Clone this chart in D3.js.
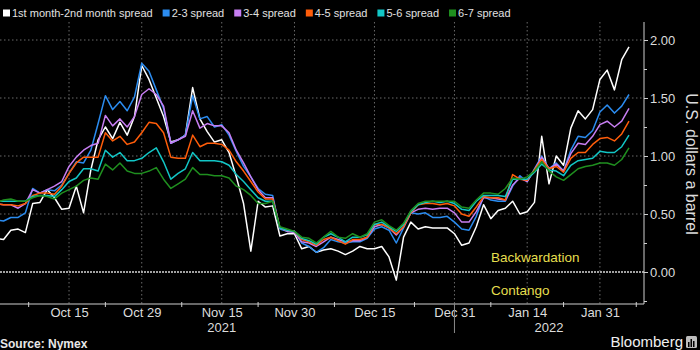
<!DOCTYPE html>
<html>
<head>
<meta charset="utf-8">
<script src="https://cdn.jsdelivr.net/npm/d3@7"></script>
<style>
  body { margin: 0; background: #000; }
  svg { display: block; font-family: "Liberation Sans", Arial, sans-serif; }
</style>
</head>
<body>
<svg id="chart" width="700" height="350"></svg>
<script>
// Trading days (NYMEX settlements), Oct 1 2021 – Feb 4 2022
const dates = [
  "2021-10-01","2021-10-04","2021-10-05","2021-10-06","2021-10-07","2021-10-08","2021-10-11","2021-10-12","2021-10-13","2021-10-14",
  "2021-10-15","2021-10-18","2021-10-19","2021-10-20","2021-10-21","2021-10-22","2021-10-25","2021-10-26","2021-10-27","2021-10-28",
  "2021-10-29","2021-11-01","2021-11-02","2021-11-03","2021-11-04","2021-11-05","2021-11-08","2021-11-09","2021-11-10","2021-11-11",
  "2021-11-12","2021-11-15","2021-11-16","2021-11-17","2021-11-18","2021-11-19","2021-11-22","2021-11-23","2021-11-24","2021-11-26",
  "2021-11-29","2021-11-30","2021-12-01","2021-12-02","2021-12-03","2021-12-06","2021-12-07","2021-12-08","2021-12-09","2021-12-10",
  "2021-12-13","2021-12-14","2021-12-15","2021-12-16","2021-12-17","2021-12-20","2021-12-21","2021-12-22","2021-12-23","2021-12-27",
  "2021-12-28","2021-12-29","2021-12-30","2021-12-31","2022-01-03","2022-01-04","2022-01-05","2022-01-06","2022-01-07","2022-01-10",
  "2022-01-11","2022-01-12","2022-01-13","2022-01-14","2022-01-18","2022-01-19","2022-01-20","2022-01-21","2022-01-24","2022-01-25",
  "2022-01-26","2022-01-27","2022-01-28","2022-01-31","2022-02-01","2022-02-02","2022-02-03","2022-02-04"
];

// Calendar spreads, U.S. dollars a barrel
const spread12 = [
  0.29,0.28,0.36,0.37,0.34,0.59,0.60,0.71,0.64,0.54,0.55,0.74,0.51,0.88,1.14,1.25,1.15,1.29,1.18,1.34,
  1.78,1.66,1.50,1.34,1.12,1.14,1.18,1.59,1.32,1.21,1.12,1.14,1.03,0.82,0.59,0.18,0.61,0.56,0.57,0.31,
  0.33,0.33,0.20,0.22,0.17,0.19,0.20,0.18,0.15,0.18,0.22,0.20,0.20,0.22,0.13,-0.07,0.30,0.43,0.37,0.39,
  0.38,0.38,0.38,0.33,0.23,0.25,0.39,0.58,0.46,0.53,0.55,0.61,0.50,0.52,0.60,1.17,0.76,1.00,0.92,1.24,
  1.39,1.32,1.40,1.66,1.74,1.57,1.83,1.94
];
const spread23 = [
  0.45,0.44,0.47,0.47,0.51,0.72,0.68,0.71,0.70,0.75,0.85,0.95,0.94,1.05,1.28,1.52,1.40,1.47,1.39,1.51,
  1.80,1.73,1.57,1.41,1.11,1.14,1.18,1.52,1.32,1.34,1.25,1.27,1.18,1.04,0.91,0.82,0.72,0.67,0.66,0.37,
  0.35,0.35,0.25,0.22,0.17,0.21,0.28,0.26,0.25,0.26,0.26,0.29,0.37,0.39,0.36,0.25,0.38,0.51,0.50,0.51,
  0.47,0.47,0.48,0.43,0.37,0.36,0.48,0.65,0.62,0.61,0.61,0.74,0.83,0.78,0.89,1.00,0.89,0.94,0.87,1.05,
  1.17,1.16,1.22,1.38,1.44,1.37,1.43,1.53
];
const spread34 = [
  0.59,0.58,0.58,0.55,0.59,0.71,0.68,0.71,0.74,0.78,0.91,0.99,1.05,1.09,1.11,1.35,1.26,1.32,1.25,1.34,
  1.53,1.58,1.53,1.43,1.11,1.14,1.17,1.39,1.24,1.28,1.26,1.26,1.20,1.05,0.94,0.82,0.71,0.64,0.64,0.38,
  0.35,0.34,0.26,0.25,0.22,0.26,0.30,0.28,0.26,0.27,0.27,0.30,0.39,0.41,0.38,0.32,0.39,0.51,0.54,0.55,
  0.54,0.55,0.55,0.51,0.43,0.43,0.52,0.64,0.64,0.63,0.62,0.75,0.81,0.78,0.88,0.99,0.89,0.93,0.87,1.02,
  1.11,1.10,1.17,1.27,1.30,1.25,1.30,1.41
];
const spread45 = [
  0.59,0.58,0.58,0.57,0.59,0.66,0.68,0.68,0.67,0.74,0.85,0.94,0.99,0.99,0.99,1.20,1.13,1.17,1.10,1.12,
  1.20,1.29,1.28,1.20,0.99,0.98,0.98,1.18,1.08,1.11,1.11,1.10,1.05,0.95,0.87,0.78,0.69,0.63,0.63,0.38,
  0.36,0.35,0.28,0.26,0.23,0.28,0.30,0.27,0.24,0.28,0.28,0.30,0.41,0.41,0.38,0.33,0.39,0.51,0.58,0.59,
  0.59,0.58,0.59,0.57,0.50,0.48,0.56,0.65,0.64,0.64,0.62,0.84,0.80,0.79,0.88,0.97,0.89,0.91,0.86,0.98,
  1.03,1.03,1.10,1.15,1.16,1.13,1.19,1.30
];
const spread56 = [
  0.61,0.61,0.61,0.61,0.61,0.65,0.66,0.66,0.65,0.71,0.78,0.81,0.89,0.89,0.87,1.05,0.99,1.03,0.96,0.96,
  0.98,1.03,1.07,0.95,0.80,0.85,0.89,1.03,0.96,0.96,0.96,0.95,0.92,0.84,0.78,0.71,0.64,0.61,0.61,0.38,
  0.36,0.35,0.29,0.27,0.24,0.30,0.33,0.30,0.26,0.30,0.30,0.32,0.41,0.43,0.39,0.35,0.41,0.52,0.58,0.60,
  0.61,0.60,0.61,0.59,0.54,0.53,0.61,0.66,0.66,0.66,0.65,0.80,0.80,0.80,0.86,0.93,0.88,0.87,0.83,0.92,
  0.96,0.97,0.98,1.04,1.03,1.03,1.08,1.18
];
const spread67 = [
  0.60,0.62,0.63,0.61,0.61,0.64,0.66,0.65,0.63,0.68,0.71,0.74,0.79,0.81,0.80,0.93,0.88,0.94,0.87,0.85,
  0.85,0.87,0.90,0.80,0.72,0.76,0.80,0.90,0.84,0.84,0.83,0.83,0.81,0.74,0.71,0.66,0.59,0.59,0.61,0.39,
  0.37,0.35,0.30,0.29,0.25,0.30,0.35,0.30,0.29,0.33,0.30,0.33,0.43,0.45,0.40,0.36,0.42,0.53,0.59,0.61,
  0.61,0.61,0.61,0.61,0.56,0.55,0.62,0.68,0.68,0.67,0.72,0.81,0.80,0.82,0.87,0.95,0.87,0.82,0.79,0.84,
  0.89,0.91,0.92,0.94,0.94,0.92,0.97,1.07
];

const seriesNames = ["1st month-2nd month spread", "2-3 spread", "3-4 spread", "4-5 spread", "5-6 spread", "6-7 spread"];
const seriesValues = [spread12, spread23, spread34, spread45, spread56, spread67];
const seriesColors = ["#ffffff", "#2b8cf0", "#c77ef2", "#ff5d0a", "#12c6c6", "#1f8f1f"];

// Axis ticks
const xTickDates = ["2021-10-15","2021-10-29","2021-11-15","2021-11-30","2021-12-15","2021-12-31","2022-01-14","2022-01-31"];
const xTickLabels = ["Oct 15","Oct 29","Nov 15","Nov 30","Dec 15","Dec 31","Jan 14","Jan 31"];
const yearDates = ["2021-11-15","2022-01-20"];
const yearLabels = ["2021","2022"];
const yTicks = [0, 0.5, 1.0, 1.5, 2.0];
const yMinorTicks = [-0.25, 0.25, 0.75, 1.25, 1.75];

const svg = d3.select("#chart");
const W = 700, H = 350;
const plot = { left: 0, right: 644, top: 22, bottom: 304 };

svg.append("rect").attr("width", W).attr("height", H).attr("fill", "#000");

const x = d3.scalePoint().domain(dates).range([-3.7, 629]);
const y = d3.scaleLinear().domain([0, 2]).range([272, 40]);

svg.append("defs").append("clipPath").attr("id", "plotClip")
  .append("rect")
  .attr("x", plot.left).attr("y", plot.top)
  .attr("width", plot.right - plot.left).attr("height", plot.bottom - plot.top);

// Grid
const grid = svg.append("g");
grid.selectAll("line.hg").data(yTicks.filter(d => d !== 0)).join("line")
  .attr("x1", plot.left).attr("x2", plot.right)
  .attr("y1", d => y(d)).attr("y2", d => y(d))
  .attr("stroke", "#6a6a6a").attr("stroke-width", 1).attr("stroke-dasharray", "1.5,2.5");
grid.selectAll("line.vg").data(xTickDates).join("line")
  .attr("x1", d => x(d)).attr("x2", d => x(d))
  .attr("y1", plot.top).attr("y2", plot.bottom)
  .attr("stroke", "#6a6a6a").attr("stroke-width", 1).attr("stroke-dasharray", "1.5,2.5");
grid.append("line")
  .attr("x1", plot.left).attr("x2", plot.right)
  .attr("y1", y(0)).attr("y2", y(0))
  .attr("stroke", "#d8d8d8").attr("stroke-width", 1.3).attr("stroke-dasharray", "2,1");

// Annotations
svg.append("text").attr("x", 491).attr("y", 262)
  .attr("fill", "#e6df4e").attr("font-size", 13.5).text("Backwardation");
svg.append("text").attr("x", 491).attr("y", 295)
  .attr("fill", "#e6df4e").attr("font-size", 13.5).text("Contango");

// Lines
const line = d3.line().x((d, i) => x(dates[i])).y(d => y(d));
const lines = svg.append("g").attr("clip-path", "url(#plotClip)");
seriesValues.forEach((vals, k) => {
  lines.append("path").datum(vals)
    .attr("d", line)
    .attr("fill", "none")
    .attr("stroke", seriesColors[k])
    .attr("stroke-width", 1.5)
    .attr("stroke-linejoin", "round");
});

// Right axis
const axisColor = "#cfcfcf";
svg.append("line").attr("x1", plot.right).attr("x2", plot.right)
  .attr("y1", plot.top).attr("y2", plot.bottom)
  .attr("stroke", axisColor).attr("stroke-width", 1);
const yAxis = svg.append("g").attr("transform", `translate(${plot.right},0)`)
  .call(d3.axisRight(y).tickValues(yTicks).tickFormat(d3.format(".2f")).tickSize(4).tickPadding(2));
yAxis.select(".domain").remove();
yAxis.selectAll("line").attr("stroke", axisColor);
yAxis.selectAll("text").attr("fill", "#dcdcdc").attr("font-size", 13)
  .attr("font-family", "\"Liberation Sans\", Arial, sans-serif");
const yMinor = svg.append("g").attr("transform", `translate(${plot.right},0)`)
  .call(d3.axisRight(y).tickValues(yMinorTicks).tickFormat("").tickSize(3));
yMinor.select(".domain").remove();
yMinor.selectAll("line").attr("stroke", axisColor);

svg.append("text")
  .attr("transform", `translate(686,164) rotate(90)`)
  .attr("text-anchor", "middle")
  .attr("fill", "#dcdcdc").attr("font-size", 16)
  .text("U.S. dollars a barrel");

// Bottom axis
svg.append("line").attr("x1", plot.left).attr("x2", plot.right)
  .attr("y1", plot.bottom).attr("y2", plot.bottom)
  .attr("stroke", axisColor).attr("stroke-width", 1);
const xAxis = svg.append("g").attr("transform", `translate(0,${plot.bottom})`)
  .call(d3.axisBottom(x).tickValues(xTickDates)
    .tickFormat((d, i) => xTickLabels[i]).tickSize(0).tickPadding(4));
xAxis.select(".domain").remove();
xAxis.selectAll("text").attr("fill", "#dcdcdc").attr("font-size", 13)
  .attr("font-family", "\"Liberation Sans\", Arial, sans-serif");

// Minor ticks halfway between labelled dates
const tickPos = xTickDates.map(d => x(d));
const step0 = tickPos[1] - tickPos[0];
const stepN = tickPos[tickPos.length - 1] - tickPos[tickPos.length - 2];
const minorX = [tickPos[0] - step0 / 2 - 4]
  .concat(d3.pairs(tickPos).map(([a, b]) => (a + b) / 2))
  .concat([tickPos[tickPos.length - 1] + stepN / 2]);
svg.append("g").selectAll("line").data(minorX).join("line")
  .attr("x1", d => d).attr("x2", d => d)
  .attr("y1", plot.bottom - 2).attr("y2", plot.bottom + 3)
  .attr("stroke", axisColor).attr("stroke-width", 1);

// Year labels and separator
svg.append("g").selectAll("text").data(yearDates).join("text")
  .attr("x", d => x(d)).attr("y", 332)
  .attr("text-anchor", "middle")
  .attr("fill", "#dcdcdc").attr("font-size", 13)
  .text((d, i) => yearLabels[i]);
svg.append("line")
  .attr("x1", x("2021-12-31")).attr("x2", x("2021-12-31"))
  .attr("y1", plot.bottom).attr("y2", 333)
  .attr("stroke", "#8a8a8a").attr("stroke-width", 1);

// Legend
const legend = svg.append("g");
let lx = 3;
seriesNames.forEach((name, k) => {
  legend.append("rect").attr("x", lx).attr("y", 9.5).attr("width", 7).attr("height", 7)
    .attr("fill", seriesColors[k]);
  const t = legend.append("text").attr("x", lx + 9).attr("y", 17)
    .attr("fill", "#e0e0e0").attr("font-size", 11).text(name);
  lx += 9 + t.node().getComputedTextLength() + 10;
});

// Footer
svg.append("text").attr("x", 0).attr("y", 348)
  .attr("fill", "#e8e8e8").attr("font-size", 12).attr("font-weight", "bold")
  .text("Source: Nymex");
svg.append("text").attr("x", 683).attr("y", 347)
  .attr("text-anchor", "end")
  .attr("fill", "#f0f0f0").attr("font-size", 15)
  .text("Bloomberg");
const logo = svg.append("g").attr("transform", "translate(686,336)");
logo.append("rect").attr("width", 11).attr("height", 12).attr("rx", 1.5).attr("fill", "#bdbdbd");
[[2, 6, 1.5, 5], [4.5, 3, 1.5, 8], [7, 5, 1.5, 6]].forEach(([bx, by, bw, bh]) => {
  logo.append("rect").attr("x", bx).attr("y", by).attr("width", bw).attr("height", bh).attr("fill", "#000");
});
</script>
</body>
</html>
